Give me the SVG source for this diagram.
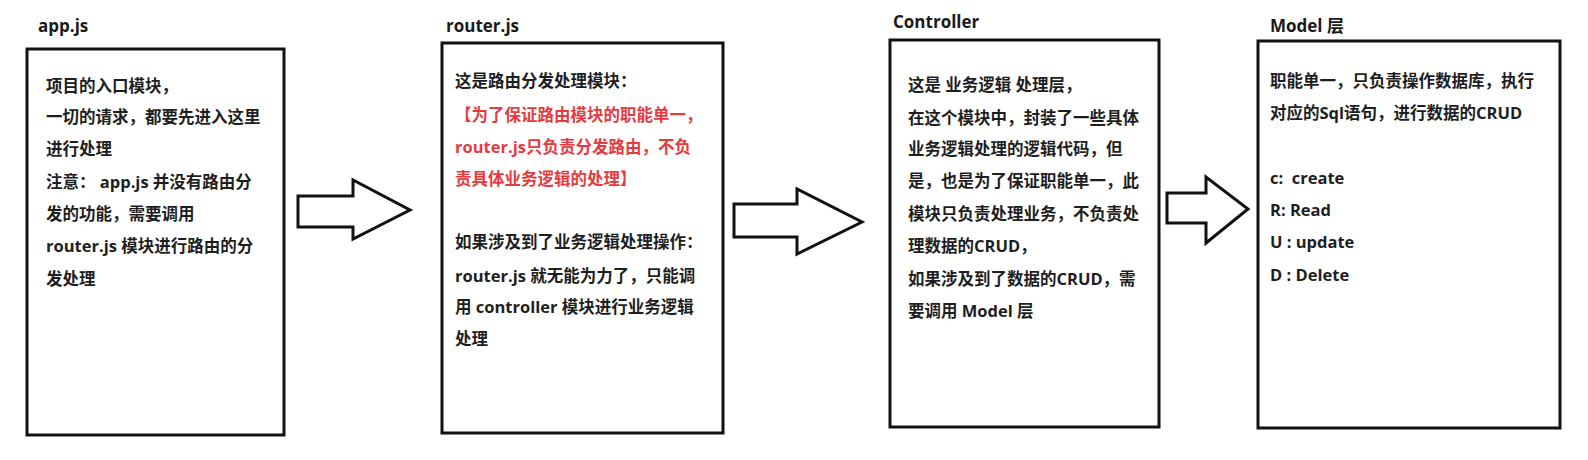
<svg xmlns="http://www.w3.org/2000/svg" width="1588" height="460" viewBox="0 0 1588 460">
<style>
.box{fill:#fff;stroke:#111;stroke-width:3}
.arrow{fill:#fff;stroke:#111;stroke-width:3;stroke-linejoin:miter}
.title{font-family:"Open Sans","Noto Sans CJK SC",sans-serif;font-size:17px;font-weight:bold;fill:#1a1a1a}
.t{font-family:"Open Sans","Noto Sans CJK SC",sans-serif;font-size:16.5px;font-weight:bold;fill:#1e1e1e;white-space:pre}
.red{fill:#e63a3f}
</style>
<rect width="1588" height="460" fill="#fff"/>
<g id="connectors">
<polygon class="arrow" points="298,196 353,196 353,180 410,210 353,239 353,227 298,227"/>
<polygon class="arrow" points="734,204 797,204 797,189 862,222 797,254 797,237 734,237"/>
<polygon class="arrow" points="1167,193 1206,193 1206,177 1248,209 1206,243 1206,223 1167,223"/>
</g>
<g id="node-app">
<text class="title" x="38" y="32">app.js</text>
<rect class="box" x="27" y="49" width="257" height="386"/>
<text class="t" x="46" y="92">项目的入口模块，</text>
<text class="t" x="46" y="123">一切的请求，都要先进入这里</text>
<text class="t" x="46" y="155">进行处理</text>
<text class="t" x="46" y="188">注意： app.js 并没有路由分</text>
<text class="t" x="46" y="220">发的功能，需要调用</text>
<text class="t" x="46" y="252">router.js 模块进行路由的分</text>
<text class="t" x="46" y="285">发处理</text>
</g>
<g id="node-router">
<text class="title" x="446" y="32">router.js</text>
<rect class="box" x="442" y="43" width="281" height="390"/>
<text class="t" x="455" y="87">这是路由分发处理模块：</text>
<text class="t red" x="455" y="121">【为了保证路由模块的职能单一，</text>
<text class="t red" x="455" y="153">router.js只负责分发路由，不负</text>
<text class="t red" x="455" y="185">责具体业务逻辑的处理】</text>
<text class="t" x="455" y="248">如果涉及到了业务逻辑处理操作：</text>
<text class="t" x="455" y="282">router.js 就无能为力了，只能调</text>
<text class="t" x="455" y="313">用 controller 模块进行业务逻辑</text>
<text class="t" x="455" y="345">处理</text>
</g>
<g id="node-controller">
<text class="title" x="893" y="28">Controller</text>
<rect class="box" x="890" y="40" width="269" height="387"/>
<text class="t" x="908" y="91">这是 业务逻辑 处理层，</text>
<text class="t" x="908" y="124">在这个模块中，封装了一些具体</text>
<text class="t" x="908" y="155">业务逻辑处理的逻辑代码，但</text>
<text class="t" x="908" y="187">是，也是为了保证职能单一，此</text>
<text class="t" x="908" y="220">模块只负责处理业务，不负责处</text>
<text class="t" x="908" y="252">理数据的CRUD，</text>
<text class="t" x="908" y="285">如果涉及到了数据的CRUD，需</text>
<text class="t" x="908" y="317">要调用 Model 层</text>
</g>
<g id="node-model">
<text class="title" x="1270" y="32">Model 层</text>
<rect class="box" x="1258" y="41" width="302" height="387"/>
<text class="t" x="1270" y="87">职能单一，只负责操作数据库，执行</text>
<text class="t" x="1270" y="119">对应的Sql语句，进行数据的CRUD</text>
<text class="t" x="1270" y="184">c:  create</text>
<text class="t" x="1270" y="216">R: Read</text>
<text class="t" x="1270" y="248">U : update</text>
<text class="t" x="1270" y="281">D : Delete</text>
</g>
</svg>
